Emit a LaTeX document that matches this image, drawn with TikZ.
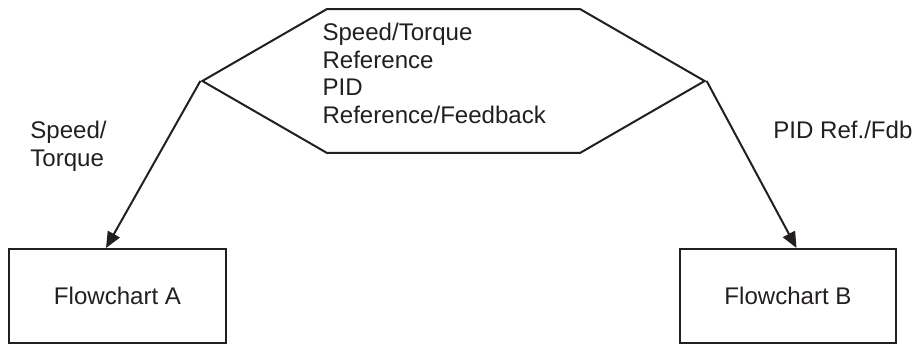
\documentclass[tikz,border=0pt]{standalone}
\usepackage{fontspec}
\setmainfont{Liberation Sans}
\usetikzlibrary{positioning,shapes.symbols,arrows.meta}
\definecolor{ink}{HTML}{231F20}
\tikzset{
  >={Triangle[length=0.32cm,width=0.27cm]},
  every node/.style={font=\fontsize{13.7}{15.6}\selectfont, text=ink},
  % --- nodes
  chart/.style = {draw=ink, line width=0.04cm, minimum width=4.34cm,
                  minimum height=1.88cm, inner sep=0pt},
  hexa/.style  = {draw=ink, line width=0.04cm, shape=signal,
                  signal to=west and east, signal pointer angle=60,
                  minimum height=2.88cm, inner xsep=-0.09cm,
                  align=left, text width=5.24cm, text depth=1.95cm},
  lbl/.style   = {inner sep=0pt, align=left},
  % --- edges
  e/.style     = {->, draw=ink, line width=0.04cm},
}

\begin{document}
\begin{tikzpicture}[x=0.02cm,y=-0.02cm]
  \useasboundingbox (0,0) rectangle (914,345);
  \node[hexa] (src) at (453.5,81) {Speed/Torque\\Reference\\PID\\Reference/Feedback};
  \node[chart] (fa) at (117.5,296) {Flowchart A};
  \node[chart] (fb) at (788,296) {Flowchart B};
  \draw[e] (src.west) -- ([xshift=1.96cm]fa.north west);
  \draw[e] (src.east) -- ([xshift=2.36cm]fb.north west);
  \node[lbl, anchor=north west] (lsp) at (30,121) {Speed/\\Torque};
  \node[lbl, anchor=north west] (lpid) at (773,121) {PID Ref./Fdb};
\end{tikzpicture}
\end{document}
